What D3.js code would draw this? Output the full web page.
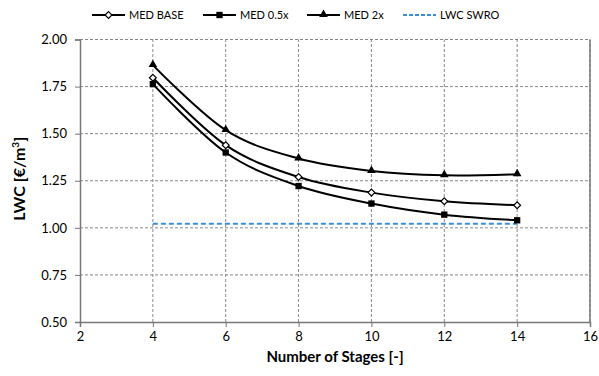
<!DOCTYPE html>
<html>
<head>
<meta charset="utf-8">
<script src="https://cdn.jsdelivr.net/npm/d3@7"></script>
<style>
  body { margin: 0; background: #fff; }
  text { font-family: Lato, "Open Sans", sans-serif; }
</style>
</head>
<body>
<script>
// chart data
const stages = [4, 6, 8, 10, 12, 14];
const medBase = [1.797, 1.439, 1.270, 1.187, 1.141, 1.120];
const med05 = [1.763, 1.400, 1.222, 1.129, 1.070, 1.040];
const med2 = [1.864, 1.519, 1.368, 1.302, 1.279, 1.285];
const swroStages = [4, 14];
const swro = [1.022, 1.022];
const xTicks = [2, 4, 6, 8, 10, 12, 14, 16];
const yTicks = [0.5, 0.75, 1.0, 1.25, 1.5, 1.75, 2.0];

const width = 599, height = 376;
const margin = {left: 80, right: 9, top: 39.5, bottom: 54};

const svg = d3.select('body').append('svg')
  .attr('width', width)
  .attr('height', height);

const x = d3.scaleLinear().domain([2, 16]).range([margin.left, width - margin.right]);
const y = d3.scaleLinear().domain([0.5, 2.0]).range([height - margin.bottom, margin.top]);

// grid
svg.append('g').selectAll('line.vg')
  .data(xTicks.slice(1))
  .enter().append('line')
  .attr('x1', d => x(d)).attr('x2', d => x(d))
  .attr('y1', y(0.5)).attr('y2', y(2.0))
  .attr('stroke', '#888').attr('stroke-dasharray', '3,2').attr('stroke-width', 1);

svg.append('g').selectAll('line.hg')
  .data(yTicks.slice(1))
  .enter().append('line')
  .attr('x1', x(2)).attr('x2', x(16))
  .attr('y1', d => y(d)).attr('y2', d => y(d))
  .attr('stroke', '#888').attr('stroke-dasharray', '3,2').attr('stroke-width', 1);

// right border
svg.append('line')
  .attr('x1', x(16)).attr('x2', x(16))
  .attr('y1', y(2.0)).attr('y2', y(0.5))
  .attr('stroke', '#777').attr('stroke-width', 1.5);

// axes
const xAxis = svg.append('g')
  .attr('transform', `translate(0,${y(0.5)})`)
  .call(d3.axisBottom(x).tickValues(xTicks).tickSize(5).tickPadding(5).tickFormat(d3.format('d')));
const yAxis = svg.append('g')
  .attr('transform', `translate(${x(2)},0)`)
  .call(d3.axisLeft(y).tickValues(yTicks).tickSize(5).tickPadding(8).tickFormat(d3.format('.2f')));

[xAxis, yAxis].forEach(ax => {
  ax.select('.domain').attr('stroke', '#777').attr('stroke-width', 1.5);
  ax.selectAll('.tick line').attr('stroke', '#777');
  ax.selectAll('.tick text').attr('fill', '#000').style('font-size', '13px')
    .style('font-family', 'Lato, "Open Sans", sans-serif');
});

// axis titles
svg.append('text')
  .attr('x', (x(2) + x(16)) / 2).attr('y', 362)
  .attr('text-anchor', 'middle')
  .style('font-size', '15px').style('font-weight', 'bold')
  .text('Number of Stages [-]');

const yt = svg.append('text')
  .attr('transform', `translate(25,${(y(0.5) + y(2.0)) / 2 - 2}) rotate(-90)`)
  .attr('text-anchor', 'middle')
  .style('font-size', '16px').style('font-weight', 'bold');
yt.append('tspan').text('LWC [€/m');
yt.append('tspan').attr('dy', -6).style('font-size', '10px').text('3');
yt.append('tspan').attr('dy', 6).text(']');

// lines
const line = d3.line()
  .x(d => x(d[0]))
  .y(d => y(d[1]))
  .curve(d3.curveCatmullRom.alpha(0));

const series = [
  {name: 'MED BASE', values: medBase, marker: 'diamond'},
  {name: 'MED 0.5x', values: med05, marker: 'square'},
  {name: 'MED 2x', values: med2, marker: 'triangle'}
];

svg.append('path')
  .datum(swroStages.map((s, i) => [s, swro[i]]))
  .attr('d', d3.line().x(d => x(d[0])).y(d => y(d[1])))
  .attr('fill', 'none')
  .attr('stroke', '#3a8fd6')
  .attr('stroke-width', 2)
  .attr('stroke-dasharray', '5,3');

function drawMarker(g, type, cx, cy) {
  if (type === 'diamond') {
    g.append('path')
      .attr('d', d3.symbol().type(d3.symbolDiamond2).size(30)())
      .attr('transform', `translate(${cx},${cy})`)
      .attr('fill', '#fff').attr('stroke', '#000').attr('stroke-width', 1.2);
  } else if (type === 'square') {
    g.append('path')
      .attr('d', d3.symbol().type(d3.symbolSquare).size(40)())
      .attr('transform', `translate(${cx},${cy})`)
      .attr('fill', '#000');
  } else {
    g.append('path')
      .attr('d', d3.symbol().type(d3.symbolTriangle).size(32)())
      .attr('transform', `translate(${cx},${cy - 0.5})`)
      .attr('fill', '#000');
  }
}

series.forEach(s => {
  const pts = stages.map((st, i) => [st, s.values[i]]);
  svg.append('path')
    .datum(pts)
    .attr('d', line)
    .attr('fill', 'none')
    .attr('stroke', '#000')
    .attr('stroke-width', 2);
  const g = svg.append('g');
  pts.forEach(p => drawMarker(g, s.marker, x(p[0]), y(p[1])));
});

// legend
const legendItems = [
  {name: 'MED BASE', marker: 'diamond', x0: 92},
  {name: 'MED 0.5x', marker: 'square', x0: 203},
  {name: 'MED 2x', marker: 'triangle', x0: 307},
  {name: 'LWC SWRO', marker: null, x0: 403}
];
const ly = 15;
legendItems.forEach(it => {
  const g = svg.append('g');
  if (it.marker) {
    g.append('line').attr('x1', it.x0).attr('x2', it.x0 + 33)
      .attr('y1', ly).attr('y2', ly).attr('stroke', '#000').attr('stroke-width', 2);
    drawMarker(g, it.marker, it.x0 + 16.5, ly);
  } else {
    g.append('line').attr('x1', it.x0).attr('x2', it.x0 + 33)
      .attr('y1', ly).attr('y2', ly).attr('stroke', '#3a8fd6').attr('stroke-width', 2)
      .attr('stroke-dasharray', '4,2');
  }
  g.append('text').attr('x', it.x0 + 37).attr('y', ly + 4)
    .style('font-size', '11px').text(it.name);
});
</script>
</body>
</html>
